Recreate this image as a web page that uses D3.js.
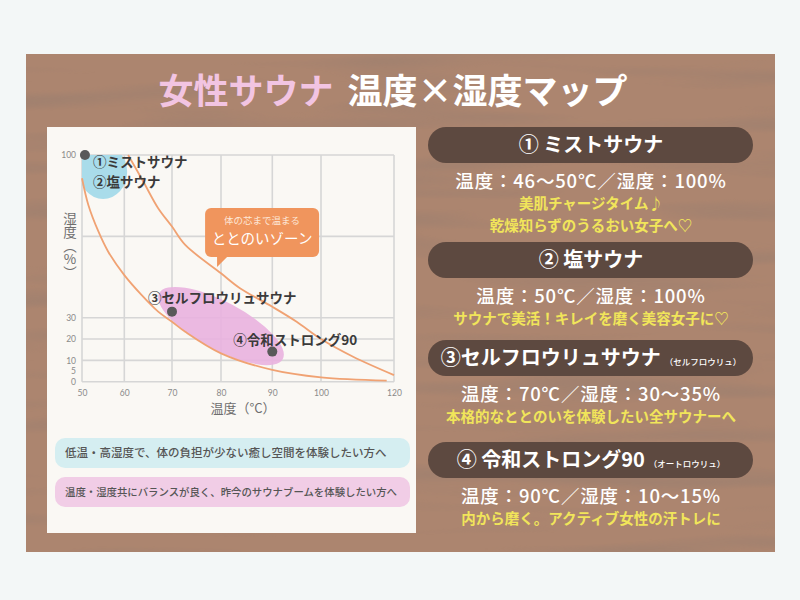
<!DOCTYPE html>
<html>
<head>
<meta charset="utf-8">
<script src="https://cdn.jsdelivr.net/npm/d3@7"></script>
<style>
  body { margin: 0; background: #f3f7f7; }
  svg { display: block; font-family: "Noto Sans CJK JP", "Noto Sans", sans-serif; }
</style>
</head>
<body>
<div id="map_div"></div>
<script>
// axis ticks
const xTicks = [50, 60, 70, 80, 90, 100, 120];
const yTickLabels = [0, 5, 10, 20, 30, 100];
const yGrid = [0, 10, 20, 30, 65, 100];

// boundary curves of the "ととのい" zone (temp ℃, humidity %)
const lowerTemp = [50, 51.5, 53.9, 56.2, 60, 63.6, 67.1, 70, 72.7, 80, 90, 100, 118];
const lowerHum = [90, 78.5, 67, 58.4, 48.3, 39.8, 32.6, 28.1, 23.4, 13.3, 5.5, 2, 0.5];
const upperTemp = [60.8, 64, 67.1, 70, 72.7, 80, 83.7, 90, 95, 100, 108.8, 120];
const upperHum = [100, 88.5, 77.1, 69.2, 61.3, 49.1, 42.7, 34.7, 28.1, 20, 11.7, 3.1];

// saunas
const saunaTemp = [50.7, 70, 90];
const saunaHum = [100, 32.6, 14.1];
const saunaLabels = [["①ミストサウナ", "②塩サウナ"], ["③セルフロウリュサウナ"], ["④令和ストロング90"]];

// zone blobs (centre in temp / humidity)
const zoneTemp = [55, 80];
const zoneHum = [92.7, 26.1];

// cards on the right
const cardTitles = ["① ミストサウナ", "②  塩サウナ", "③セルフロウリュサウナ", "④ 令和ストロング90"];
const cardSubs = ["", "", "（セルフロウリュ）", "（オートロウリュ）"];
const cardSpecs = ["温度：46～50℃／湿度：100%", "温度：50℃／湿度：100%", "温度：70℃／湿度：30～35%", "温度：90℃／湿度：10～15%"];
const cardNotes = [["美肌チャージタイム♪", "乾燥知らずのうるおい女子へ♡"], ["サウナで美活！キレイを磨く美容女子に♡"],
                   ["本格的なととのいを体験したい全サウナーへ"], ["内から磨く。アクティブ女性の汗トレに"]];

const legendTexts = ["低温・高湿度で、体の負担が少ない癒し空間を体験したい方へ", "温度・湿度共にバランスが良く、昨今のサウナブームを体験したい方へ"];

const width = 800, height = 600;

const svg = d3.select("#map_div").append("svg")
    .attr("width", width).attr("height", height);

const defs = svg.append("defs");
const grain = defs.append("filter").attr("id", "grain").attr("x", 0).attr("y", 0).attr("width", 1).attr("height", 1);
grain.append("feTurbulence").attr("type", "fractalNoise").attr("baseFrequency", "0.004 0.045")
    .attr("numOctaves", 2).attr("seed", 11);
grain.append("feColorMatrix").attr("type", "matrix")
    .attr("values", "0 0 0 0 0.32  0 0 0 0 0.21  0 0 0 0 0.16  3 0 0 0 -1.45");
grain.append("feComposite").attr("in2", "SourceGraphic").attr("operator", "in");

// wood board
svg.append("rect").attr("x", 26).attr("y", 54).attr("width", 749).attr("height", 498).attr("fill", "#ac856f");
svg.append("rect").attr("x", 26).attr("y", 54).attr("width", 749).attr("height", 498)
    .attr("fill", "#000").attr("filter", "url(#grain)").attr("opacity", 0.55);

// title
svg.append("text").attr("x", 393).attr("y", 104).attr("text-anchor", "middle")
    .attr("font-size", 35).attr("font-weight", 700)
    .call(t => {
        t.append("tspan").attr("fill", "#f2c4e2").text("女性サウナ");
        t.append("tspan").attr("fill", "#ffffff").attr("dx", 14).text("温度×湿度マップ");
    });

// chart panel
svg.append("rect").attr("x", 47).attr("y", 127).attr("width", 369).attr("height", 406).attr("fill", "#faf8f4");

const xScale = d3.scaleLinear().domain(xTicks).range([82, 124.3, 172, 221, 272.3, 321, 394]);
const yScale = d3.scaleLinear().domain([0, 30, 100]).range([381.7, 317.7, 155]);

const plot = svg.append("g");
defs.append("clipPath").attr("id", "plot_clip").append("rect")
    .attr("x", xScale(50)).attr("y", yScale(100))
    .attr("width", xScale(120) - xScale(50)).attr("height", yScale(0) - yScale(100));

// grid
plot.selectAll(".vgrid").data(xTicks).join("line").attr("class", "vgrid")
    .attr("x1", d => xScale(d)).attr("x2", d => xScale(d))
    .attr("y1", yScale(100)).attr("y2", yScale(0))
    .attr("stroke", "#d6d6d6").attr("stroke-width", 1.6);
plot.selectAll(".hgrid").data(yGrid).join("line").attr("class", "hgrid")
    .attr("y1", d => yScale(d)).attr("y2", d => yScale(d))
    .attr("x1", xScale(50)).attr("x2", xScale(120))
    .attr("stroke", "#d6d6d6").attr("stroke-width", 1.6);

// zone blobs
const zones = plot.append("g").attr("clip-path", "url(#plot_clip)");
zones.append("ellipse")
    .attr("cx", xScale(zoneTemp[0])).attr("cy", yScale(zoneHum[0]))
    .attr("rx", 24).attr("ry", 27).attr("fill", "#a9dcea");
zones.append("ellipse")
    .attr("rx", 70).attr("ry", 24).attr("fill", "#e9b1df").attr("fill-opacity", 0.9)
    .attr("transform", `translate(${xScale(zoneTemp[1])},${yScale(zoneHum[1])}) rotate(28)`);

// axis
const xAxis = plot.append("g").attr("transform", `translate(0,${yScale(0) + 4})`)
    .call(d3.axisBottom(xScale).tickValues(xTicks).tickSize(0).tickPadding(4));
xAxis.select(".domain").remove();
xAxis.selectAll("text").attr("fill", "#8a8a8a").attr("font-size", 8.5).attr("font-family", "Lato, sans-serif");

const yAxis = plot.append("g").attr("transform", `translate(${xScale(50) - 4},0)`)
    .call(d3.axisLeft(yScale).tickValues(yTickLabels).tickSize(0).tickPadding(2));
yAxis.select(".domain").remove();
yAxis.selectAll("text").attr("fill", "#8a8a8a").attr("font-size", 8.5).attr("font-family", "Lato, sans-serif");

// curves
const line = d3.line().x(d => xScale(d[0])).y(d => yScale(d[1])).curve(d3.curveCatmullRom.alpha(0.5));
plot.append("path").datum(d3.zip(lowerTemp, lowerHum))
    .attr("fill", "none").attr("stroke", "#f0a273").attr("stroke-width", 1.8).attr("d", line);
plot.append("path").datum(d3.zip(upperTemp, upperHum))
    .attr("fill", "none").attr("stroke", "#f0a273").attr("stroke-width", 1.8).attr("d", line);

// callout
const tipX = xScale(79.2), tipY = yScale(51.8);
const callout = plot.append("g").attr("transform", `translate(${tipX},${tipY})`);
callout.append("rect").attr("x", -12).attr("y", -59).attr("width", 114).attr("height", 49).attr("rx", 6)
    .attr("fill", "#f0955d");
callout.append("path").attr("d", "M0,0 L0,-12 L12,-12 Z").attr("fill", "#f0955d");
callout.append("text").attr("x", 45).attr("y", -43).attr("text-anchor", "middle")
    .attr("fill", "#fde6d6").attr("font-size", 9.5).text("体の芯まで温まる");
callout.append("text").attr("x", 45).attr("y", -23).attr("text-anchor", "middle")
    .attr("fill", "#ffffff").attr("font-size", 14.5).text("ととのいゾーン");

// sauna points
const pts = d3.zip(saunaTemp, saunaHum);
plot.selectAll(".dot").data(pts).join("circle").attr("class", "dot")
    .attr("cx", d => xScale(d[0])).attr("cy", d => yScale(d[1])).attr("r", 5)
    .attr("fill", "#595959");

const labelOffsets = [[8, 12], [-24, -9], [-39, -7]];
plot.selectAll(".plabel").data(saunaLabels).join("text").attr("class", "plabel")
    .attr("font-size", 13.5).attr("font-weight", 700).attr("fill", "#3a3a3a")
    .attr("transform", (d, i) => `translate(${xScale(saunaTemp[i]) + labelOffsets[i][0]},${yScale(saunaHum[i]) + labelOffsets[i][1]})`)
    .each(function(d) {
        d3.select(this).selectAll("tspan").data(d).join("tspan")
            .attr("x", 0).attr("y", (s, j) => j * 20).text(s => s);
    });

// axis titles
svg.append("text").attr("x", 243).attr("y", 413).attr("text-anchor", "middle")
    .attr("fill", "#6e6e6e").attr("font-size", 13).text("温度（°C）");
svg.append("text").attr("x", 70).attr("y", 212)
    .attr("fill", "#6e6e6e").attr("font-size", 13.5)
    .style("writing-mode", "vertical-rl").style("text-orientation", "upright")
    .text("湿度（%）");

// legend boxes
const legendFill = ["#d5eef1", "#f1cde6"];
const legendY = [438, 477];
svg.selectAll(".lbox").data(legendTexts).join("rect").attr("class", "lbox")
    .attr("x", 55).attr("y", (d, i) => legendY[i]).attr("width", 355).attr("height", 30).attr("rx", 10)
    .attr("fill", (d, i) => legendFill[i]);
svg.selectAll(".ltext").data(legendTexts).join("text").attr("class", "ltext")
    .attr("x", 65).attr("y", (d, i) => legendY[i] + 19)
    .attr("font-size", (d, i) => [11.5, 10.4][i]).attr("font-weight", 500).attr("fill", "#555555")
    .text(d => d);

// cards
const pillY = [127, 242, 340, 442];
const cardCx = 591;
const cards = svg.selectAll(".card").data(cardTitles).join("g").attr("class", "card")
    .attr("transform", (d, i) => `translate(0,${pillY[i]})`);
cards.append("rect").attr("x", 428).attr("y", 0).attr("width", 325).attr("height", 36).attr("rx", 18)
    .attr("fill", "#5d4940");
cards.append("text").attr("x", cardCx).attr("y", 25).attr("text-anchor", "middle")
    .attr("fill", "#ffffff").attr("font-weight", 700).attr("font-size", 20)
    .each(function(d, i) {
        const t = d3.select(this);
        t.append("tspan").text(d);
        if (cardSubs[i]) t.append("tspan").attr("font-size", 8.5).attr("font-weight", 500).attr("dx", 4).text(cardSubs[i]);
    });
cards.append("text").attr("x", cardCx).attr("y", 61).attr("text-anchor", "middle")
    .attr("fill", "#ffffff").attr("font-weight", 500).attr("font-size", 18.5).attr("letter-spacing", 0.8)
    .text((d, i) => cardSpecs[i]);
cards.each(function(d, i) {
    d3.select(this).selectAll(".note").data(cardNotes[i]).join("text").attr("class", "note")
        .attr("x", cardCx).attr("y", (s, j) => 82 + j * 22).attr("text-anchor", "middle")
        .attr("fill", "#f1e55a").attr("font-weight", 700).attr("font-size", 14.5)
        .text(s => s);
});
</script>
</body>
</html>
